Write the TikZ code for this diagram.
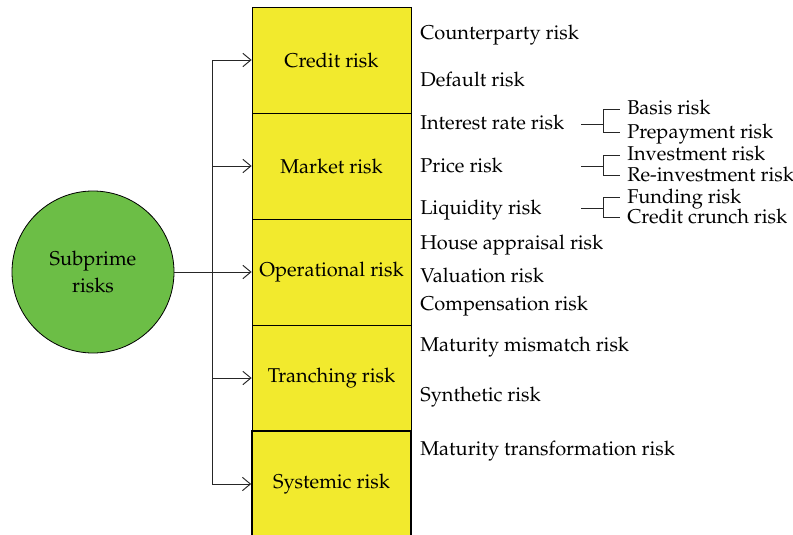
\documentclass[tikz,border=0pt]{standalone}
\usepackage[T1]{fontenc}
\usepackage{mathpazo}
\usepackage{tikz}
\usetikzlibrary{arrows,arrows.meta}
\definecolor{RiskYellow}{RGB}{242,234,45}
\definecolor{RiskGreen}{RGB}{108,190,70}
\tikzset{
  BaseNode/.style = {align=center, inner sep=0pt, text centered, font=\fontsize{15}{20}\selectfont},
  RiskBox/.style = {BaseNode, rectangle, draw=black, fill=RiskYellow, line width=0.6pt, minimum width=119.25pt, minimum height=79.5pt},
  SysBox/.style = {RiskBox, line width=1.3pt},
  RootNode/.style = {BaseNode, circle, draw=black, fill=RiskGreen, line width=0.6pt, minimum size=121.5pt},
  ItemNode/.style = {BaseNode, anchor=base west, text height=11pt, text depth=3pt},
  SubNode/.style = {ItemNode, inner xsep=5.25pt},
  Link/.style = {line width=0.7pt, black!85},
}
\begin{document}
\begin{tikzpicture}[x=0.75pt, y=-0.75pt, >={Straight Barb[length=6pt,width=10pt]}]
    \useasboundingbox (0,0) rectangle (793,535);
    \clip (0,0) rectangle (793,535);
    % risk categories
    \node [RiskBox] (credit) at (331.5,60) {Credit risk};
    \node [RiskBox] (market) at (331.5,166) {Market risk};
    \node [RiskBox] (oper) at (331.5,272) {Operational risk};
    \node [RiskBox] (tranch) at (331.5,378) {Tranching risk};
    \node [SysBox] (systemic) at (331.5,484) {Systemic risk};
    \node [RootNode] (subprime) at (93,272) {Subprime\\risks};
    % connectors
    \coordinate (spine) at (212,272);
    \draw [Link,->] (subprime) -- (oper);
    \foreach \b in {credit,market,tranch,systemic}
        \draw [Link,->] (spine) |- (\b.west);
    % risk items
    \node [ItemNode] (cpty) at (420,40) {Counterparty risk};
    \node [ItemNode] (default) at (420,87) {Default risk};
    \node [ItemNode] (irate) at (420,130) {Interest rate risk};
    \node [ItemNode] (price) at (420,172) {Price risk};
    \node [ItemNode] (liquid) at (420,214) {Liquidity risk};
    \node [ItemNode] (house) at (420,249) {House appraisal risk};
    \node [ItemNode] (valuation) at (420,282) {Valuation risk};
    \node [ItemNode] (compens) at (420,310) {Compensation risk};
    \node [ItemNode] (mismatch) at (420,351) {Maturity mismatch risk};
    \node [ItemNode] (synth) at (420,401) {Synthetic risk};
    \node [ItemNode] (transform) at (420,455) {Maturity transformation risk};
    % sub items
    \node [SubNode] (basis) at (620,115) {Basis risk};
    \node [SubNode] (prepay) at (620,138) {Prepayment risk};
    \node [SubNode] (invest) at (620,161) {Investment risk};
    \node [SubNode] (reinvest) at (620,181) {Re-investment risk};
    \node [SubNode] (fund) at (620,203) {Funding risk};
    \node [SubNode] (crunch) at (620,223) {Credit crunch risk};
    \coordinate (fork) at (581,0);
    \foreach \p/\a/\b in {irate/basis/prepay, price/invest/reinvest, liquid/fund/crunch}
        \draw [Link] (\p.east -| fork) -- ++(22,0) coordinate (mid) |- (\a.west) (mid) |- (\b.west);
\end{tikzpicture}
\end{document}
